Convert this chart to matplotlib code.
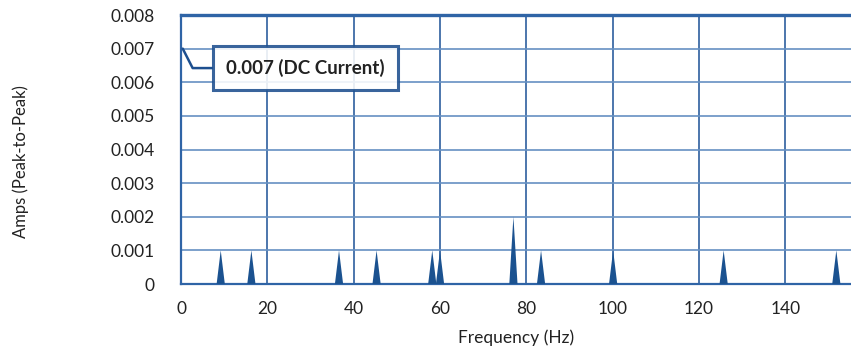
import numpy as np
import matplotlib.pyplot as plt

# --- data ---
freqs = [9.2, 16.3, 36.6, 45.3, 58.2, 60.0, 77.0, 83.4, 100.1, 125.7, 151.8]
amps = [0.001, 0.001, 0.001, 0.001, 0.001, 0.001, 0.002, 0.001, 0.001, 0.001, 0.001]
dc_value = 0.007
dc_label = "0.007 (DC Current)"
x_ticks = [0, 20, 40, 60, 80, 100, 120, 140]
y_ticks = [0, 0.001, 0.002, 0.003, 0.004, 0.005, 0.006, 0.007, 0.008]
y_ticklabels = ["0", "0.001", "0.002", "0.003", "0.004", "0.005", "0.006", "0.007", "0.008"]

plt.rcParams['font.family'] = ['Lato', 'DejaVu Sans']
text_col = '#222222'
spike_col = '#1b5290'
grid_h = '#6690c2'
grid_v = '#2d5f9e'
spine_col = '#2f64a6'

fig = plt.figure(figsize=(8.51, 3.49), dpi=100)
ax = fig.add_axes([0.2127, 0.1862, 0.7873, 0.7708])

# spikes as thin triangles
half_w = 0.95
for f, a in zip(freqs, amps):
    ax.fill([f - half_w, f, f + half_w], [0, a, 0], color=spike_col, lw=0, zorder=3)

ax.set_xlim(0, 155.2)
ax.set_ylim(0, 0.008)
ax.set_xticks(x_ticks)
ax.set_yticks(y_ticks)
ax.set_yticklabels(y_ticklabels)
ax.tick_params(axis='both', length=0, labelsize=12.5, colors=text_col)
ax.tick_params(axis='y', pad=19)
ax.tick_params(axis='x', pad=12)

# grid
ax.yaxis.grid(True, color=grid_h, lw=1.2, zorder=1)
ax.xaxis.grid(True, color=grid_v, lw=1.2, zorder=1)
ax.set_axisbelow(True)

for s in ['left', 'bottom']:
    ax.spines[s].set_color(spine_col)
    ax.spines[s].set_linewidth(1.6)
ax.spines['top'].set_color(spine_col)
ax.spines['top'].set_linewidth(2.4)
ax.spines['right'].set_visible(False)

ax.set_xlabel("Frequency (Hz)", fontsize=12.5, color=text_col, labelpad=9)
ax.set_ylabel("Amps (Peak-to-Peak)", fontsize=12, color=text_col)
ax.yaxis.set_label_coords(-0.227, 0.457)

# DC annotation
ax.annotate(dc_label, xy=(0.4, dc_value), xytext=(88.5, -14), textcoords='offset points',
            ha='center', va='center', fontsize=13.5, fontweight='bold', color=text_col,
            bbox=dict(boxstyle='square,pad=0.7', fc='white', ec='#1d4f8f', lw=2.2, alpha=0.88),
            arrowprops=dict(arrowstyle='-', color='#1d4f8f', lw=1.8,
                            connectionstyle='angle,angleA=0,angleB=-63,rad=0',
                            shrinkA=0, shrinkB=0),
            zorder=5)

fig.savefig('out.png', dpi=100)
